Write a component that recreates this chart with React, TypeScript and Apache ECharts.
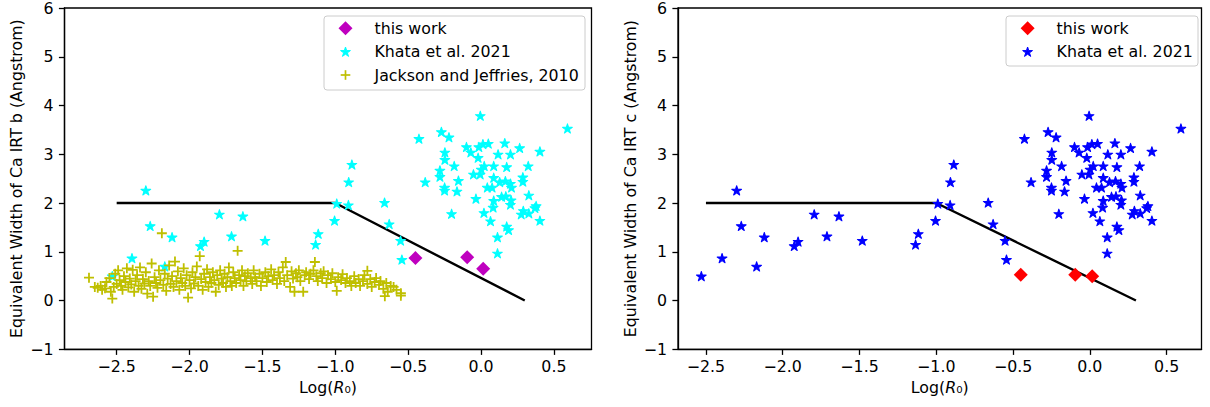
import React, { useEffect, useRef } from "react";
import * as echarts from "echarts";

const FONT = '"DejaVu Sans", sans-serif';
const FS = 15.8;

const xTicks = [-2.5, -2.0, -1.5, -1.0, -0.5, 0.0, 0.5];

const boundaryX = [-2.5, -1.0, 0.3];
const boundaryY = [2.0, 2.0, 0.0];

const thisWorkX = [-0.45, -0.095, 0.015];
const thisWorkB = [0.87, 0.89, 0.65];
const thisWorkC = [0.53, 0.53, 0.5];

const khataX = [
  -0.005, 0.593, -0.426, -0.272, -0.22, -0.248, -0.248, -0.1, -0.07, -0.015,
  0.013, 0.05, 0.163, 0.265, 0.404, 0.117, 0.202, -0.02, -0.184, 0.022,
  0.087, 0.176, 0.324, -0.282, -0.282, -0.052, -0.006, 0.002, -0.383, -0.155,
  0.087, 0.287, 0.287, 0.128, 0.167, 0.202, -0.25, -0.25, -0.165, 0.043,
  0.076, 0.209, -0.035, 0.141, 0.17, 0.206, 0.328, 0.087, 0.083, 0.202,
  0.378, 0.37, 0.02, -0.202, 0.276, 0.328, 0.29, 0.065, 0.404, 0.176,
  0.189, 0.113, 0.113, -0.63, -0.552, -0.543, -0.662,
  -2.3, -2.53, -2.395, -2.27, -2.17, -2.12, -1.925, -1.9, -1.795, -1.712,
  -1.634, -1.482, -1.135, -1.117, -1.005, -0.99, -0.91, -0.908, -0.886,
];
const khataY = [
  3.79, 3.53, 3.32, 3.46, 3.35, 3.04, 2.89, 3.15, 3.04, 3.15,
  3.21, 3.22, 3.23, 3.13, 3.06, 3.0, 3.0, 2.93, 2.76, 2.76,
  2.76, 2.74, 2.76, 2.67, 2.54, 2.59, 2.59, 2.69, 2.43, 2.46,
  2.52, 2.53, 2.44, 2.43, 2.45, 2.4, 2.32, 2.26, 2.24, 2.32,
  2.32, 2.32, 2.09, 2.13, 2.14, 2.06, 2.16, 2.05, 1.91, 1.97,
  1.94, 1.9, 1.8, 1.78, 1.77, 1.79, 1.84, 1.63, 1.64, 1.52,
  1.45, 1.3, 0.97, 1.57, 1.23, 0.84, 2.01,
  2.26, 0.5, 0.87, 1.53, 0.7, 1.3, 1.12, 1.21, 1.77, 1.32,
  1.73, 1.23, 1.15, 1.37, 1.64, 1.99, 1.96, 2.43, 2.79,
];

const jacksonPoints: [number, number][] = [
  [-2.69, 0.47], [-2.65, 0.28], [-2.63, 0.26], [-2.61, 0.3], [-2.6, 0.22], [-2.58, 0.25],
  [-2.57, 0.38], [-2.55, 0.46], [-2.54, 0.18], [-2.53, 0.04], [-2.52, 0.28], [-2.51, 0.55],
  [-2.5, 0.34], [-2.49, 0.62], [-2.48, 0.42], [-2.47, 0.3], [-2.46, 0.22], [-2.45, 0.5],
  [-2.44, 0.38], [-2.43, 0.66], [-2.42, 0.27], [-2.41, 0.45], [-2.4, 0.33], [-2.39, 0.63],
  [-2.38, 0.18], [-2.37, 0.4], [-2.36, 0.52], [-2.35, 0.3], [-2.34, 0.68], [-2.33, 0.24],
  [-2.32, 0.44], [-2.31, 0.35], [-2.3, 0.58], [-2.29, 0.14], [-2.28, 0.4], [-2.27, 0.3],
  [-2.26, 0.76], [-2.25, 0.08], [-2.24, 0.48], [-2.23, 0.36], [-2.22, 0.26], [-2.21, 0.62],
  [-2.2, 0.42], [-2.19, 1.38], [-2.18, 0.32], [-2.17, 0.55], [-2.16, 0.2], [-2.15, 0.45],
  [-2.14, 0.72], [-2.13, 0.34], [-2.12, 0.5], [-2.11, 0.28], [-2.1, 0.8], [-2.09, 0.4],
  [-2.08, 0.6], [-2.07, 0.22], [-2.06, 0.46], [-2.05, 0.36], [-2.04, 0.66], [-2.03, 0.3],
  [-2.02, 0.52], [-2.01, 0.06], [-2.0, 0.42], [-1.99, 0.25], [-1.98, 0.58], [-1.97, 0.35],
  [-1.96, 0.48], [-1.95, 0.7], [-1.94, 0.3], [-1.93, 0.91], [-1.92, 0.44], [-1.91, 0.22],
  [-1.9, 0.55], [-1.89, 0.38], [-1.88, 0.64], [-1.87, 0.28], [-1.86, 0.48], [-1.85, 0.36],
  [-1.84, 0.58], [-1.83, 0.42], [-1.82, 0.18], [-1.81, 0.52], [-1.8, 0.32], [-1.79, 0.62],
  [-1.78, 0.45], [-1.77, 0.36], [-1.76, 0.55], [-1.75, 0.28], [-1.74, 0.48], [-1.73, 0.68],
  [-1.72, 0.4], [-1.71, 0.3], [-1.7, 0.58], [-1.69, 0.46], [-1.68, 0.36], [-1.67, 1.02],
  [-1.66, 0.52], [-1.65, 0.42], [-1.64, 0.62], [-1.63, 0.3], [-1.62, 0.5], [-1.61, 0.4],
  [-1.6, 0.56], [-1.58, 0.46], [-1.57, 0.34], [-1.56, 0.62], [-1.55, 0.48], [-1.54, 0.4],
  [-1.52, 0.55], [-1.51, 0.3], [-1.5, 0.46], [-1.48, 0.58], [-1.47, 0.38], [-1.46, 0.5],
  [-1.44, 0.64], [-1.43, 0.42], [-1.42, 0.52], [-1.4, 0.34], [-1.39, 0.58], [-1.38, 0.46],
  [-1.36, 0.68], [-1.35, 0.4], [-1.34, 0.79], [-1.33, 0.52], [-1.31, 0.28], [-1.3, 0.6],
  [-1.29, 0.45], [-1.28, 0.18], [-1.27, 0.56], [-1.26, 0.48], [-1.25, 0.62], [-1.24, 0.4],
  [-1.22, 0.18], [-1.21, 0.52], [-1.2, 0.58], [-1.18, 0.44], [-1.17, 0.55], [-1.15, 0.62],
  [-1.14, 0.79], [-1.13, 0.5], [-1.12, 0.4], [-1.1, 0.56], [-1.09, 0.46], [-1.08, 0.6],
  [-1.06, 0.36], [-1.05, 0.52], [-1.03, 0.44], [-1.02, 0.56], [-1.0, 0.38], [-0.99, 0.2],
  [-0.98, 0.48], [-0.96, 0.42], [-0.95, 0.54], [-0.93, 0.36], [-0.92, 0.46], [-0.9, 0.4],
  [-0.89, 0.3], [-0.87, 0.5], [-0.86, 0.36], [-0.84, 0.44], [-0.83, 0.3], [-0.81, 0.4],
  [-0.8, 0.52], [-0.78, 0.61], [-0.78, 0.34], [-0.76, 0.44], [-0.75, 0.28], [-0.73, 0.38],
  [-0.72, 0.46], [-0.7, 0.32], [-0.69, 0.4], [-0.67, 0.24], [-0.66, 0.09], [-0.65, 0.36],
  [-0.64, 0.18], [-0.62, 0.3], [-0.6, 0.28], [-0.58, 0.22], [-0.55, 0.15], [-0.55, 0.1],
];

const STAR =
  "path://M100,0L122.45,69.1L195.11,69.1L136.33,111.8L158.78,180.9L100,138.2L41.22,180.9L63.67,111.8L4.89,69.1L77.55,69.1Z";
const PLUS =
  "path://M4.1,0L5.9,0L5.9,4.1L10,4.1L10,5.9L5.9,5.9L5.9,10L4.1,10L4.1,5.9L0,5.9L0,4.1L4.1,4.1Z";

const C_MAG = "#bf00bf";
const C_CYAN = "#00ffff";
const C_YEL = "#bfbf00";
const C_RED = "#ff0000";
const C_BLUE = "#0000ff";

const zip = (xs: number[], ys: number[]) => xs.map((x, i) => [x, ys[i]]);
const fmtX = (v: number) => v.toFixed(1).replace("-", "\u2212");
const fmtY = (v: number) => String(v).replace("-", "\u2212");

function starPts(cx: number, cy: number, r: number) {
  const pts: number[][] = [];
  for (let k = 0; k < 10; k++) {
    const rr = k % 2 === 0 ? r : r * 0.382;
    const a = (-90 + k * 36) * (Math.PI / 180);
    pts.push([cx + rr * Math.cos(a), cy + rr * Math.sin(a)]);
  }
  return pts;
}
function diamondPts(cx: number, cy: number, h: number) {
  return [[cx, cy - h], [cx + h, cy], [cx, cy + h], [cx - h, cy]];
}
function legendText(x: number, y: number, text: string) {
  return {
    type: "text",
    x,
    y,
    z: 100,
    style: { text, fill: "#000", fontSize: FS, fontFamily: FONT, align: "left", verticalAlign: "middle" },
  };
}
function plusMark(cx: number, cy: number, h: number, color: string) {
  return [
    { type: "line", z: 100, shape: { x1: cx - h, y1: cy, x2: cx + h, y2: cy }, style: { stroke: color, lineWidth: 1.7 } },
    { type: "line", z: 100, shape: { x1: cx, y1: cy - h, x2: cx, y2: cy + h }, style: { stroke: color, lineWidth: 1.7 } },
  ];
}

function makeX(gridIndex: number, min: number, max: number) {
  return {
    gridIndex,
    type: "value",
    min,
    max,
    name: "{n|Log(}{i|R}{n|\u2080)}",
    nameLocation: "middle",
    nameGap: 30,
    nameTextStyle: {
      rich: {
        n: { fontSize: FS, fontFamily: FONT, color: "#000" },
        i: { fontSize: FS, fontFamily: FONT, fontStyle: "italic", color: "#000" },
      },
    },
    axisLine: { show: true, onZero: false, lineStyle: { color: "#000", width: 1.3 } },
    axisTick: { show: true, length: 5.6, customValues: xTicks, lineStyle: { color: "#000", width: 1.3 } },
    axisLabel: { customValues: xTicks, formatter: fmtX, margin: 9, color: "#000", fontSize: FS, fontFamily: FONT },
    splitLine: { show: false },
  };
}
function makeY(gridIndex: number, name: string) {
  return {
    gridIndex,
    type: "value",
    min: -1,
    max: 6,
    interval: 1,
    name,
    nameLocation: "middle",
    nameGap: 40,
    nameTextStyle: { fontSize: FS, fontFamily: FONT, color: "#000" },
    axisLine: { show: true, onZero: false, lineStyle: { color: "#000", width: 1.3 } },
    axisTick: { show: true, length: 5.6, lineStyle: { color: "#000", width: 1.3 } },
    axisLabel: { formatter: fmtY, margin: 11, color: "#000", fontSize: FS, fontFamily: FONT },
    splitLine: { show: false },
  };
}

export default function App() {
  const ref = useRef<HTMLDivElement>(null);
  useEffect(() => {
    if (!ref.current) return;
    const chart = echarts.init(ref.current, undefined, { renderer: "svg" });
    const grid = [
      { left: 64.5, top: 7.5, width: 527, height: 341.8, show: true, borderColor: "#000", borderWidth: 1.3, backgroundColor: "#fff" },
      { left: 678, top: 7.5, width: 523.5, height: 341.8, show: true, borderColor: "#000", borderWidth: 1.3, backgroundColor: "#fff" },
    ];
    const lx = 345.5, ltx = 374.5;
    const rx = 1027.6, rtx = 1056.6;
    const graphic: any[] = [
      { type: "rect", z: 99, shape: { x: 324, y: 16, width: 261, height: 74, r: 3 }, style: { fill: "rgba(255,255,255,0.8)", stroke: "#cccccc", lineWidth: 1 } },
      { type: "polygon", z: 100, shape: { points: diamondPts(lx, 28.3, 7) }, style: { fill: C_MAG } },
      legendText(ltx, 28.3, "this work"),
      { type: "polygon", z: 100, shape: { points: starPts(lx, 52.2, 5.2) }, style: { fill: C_CYAN, stroke: C_CYAN, lineWidth: 1, lineJoin: "round" } },
      legendText(ltx, 51.7, "Khata et al. 2021"),
      ...plusMark(lx, 75, 4.8, C_YEL),
      legendText(ltx, 75, "Jackson and Jeffries, 2010"),
      { type: "rect", z: 99, shape: { x: 1006, y: 16, width: 192, height: 50, r: 3 }, style: { fill: "rgba(255,255,255,0.8)", stroke: "#cccccc", lineWidth: 1 } },
      { type: "polygon", z: 100, shape: { points: diamondPts(rx, 28.3, 7) }, style: { fill: C_RED } },
      legendText(rtx, 28.3, "this work"),
      { type: "polygon", z: 100, shape: { points: starPts(rx, 52.2, 5.2) }, style: { fill: C_BLUE, stroke: C_BLUE, lineWidth: 1, lineJoin: "round" } },
      legendText(rtx, 51.7, "Khata et al. 2021"),
    ];
    const starStyle = (c: string) => ({ color: c, opacity: 1, borderColor: c, borderWidth: 1, borderJoin: "round" });
    const option: any = {
      animation: false,
      backgroundColor: "#fff",
      grid,
      xAxis: [makeX(0, -2.858, 0.758), makeX(1, -2.682, 0.727)],
      yAxis: [
        makeY(0, "Equivalent Width of Ca IRT b (Angstrom)"),
        makeY(1, "Equivalent Width of Ca IRT c (Angstrom)"),
      ],
      series: [
        { type: "line", xAxisIndex: 0, yAxisIndex: 0, data: zip(boundaryX, boundaryY), symbol: "none", silent: true, lineStyle: { color: "#000", width: 2.4 }, z: 1 },
        { type: "scatter", name: "this work", xAxisIndex: 0, yAxisIndex: 0, data: zip(thisWorkX, thisWorkB), symbol: "diamond", symbolSize: 14, itemStyle: { color: C_MAG, opacity: 1 }, silent: true, z: 2 },
        { type: "scatter", name: "Khata et al. 2021", xAxisIndex: 0, yAxisIndex: 0, data: zip(khataX, khataY), symbol: STAR, symbolSize: [9.8, 9.3], itemStyle: starStyle(C_CYAN), silent: true, z: 3 },
        { type: "scatter", name: "Jackson and Jeffries, 2010", xAxisIndex: 0, yAxisIndex: 0, data: jacksonPoints, symbol: PLUS, symbolSize: 10, itemStyle: { color: C_YEL, opacity: 1 }, silent: true, z: 4 },
        { type: "line", xAxisIndex: 1, yAxisIndex: 1, data: zip(boundaryX, boundaryY), symbol: "none", silent: true, lineStyle: { color: "#000", width: 2.4 }, z: 1 },
        { type: "scatter", name: "this work ", xAxisIndex: 1, yAxisIndex: 1, data: zip(thisWorkX, thisWorkC), symbol: "diamond", symbolSize: 14, itemStyle: { color: C_RED, opacity: 1 }, silent: true, z: 2 },
        { type: "scatter", name: "Khata et al. 2021 ", xAxisIndex: 1, yAxisIndex: 1, data: zip(khataX, khataY), symbol: STAR, symbolSize: [9.8, 9.3], itemStyle: starStyle(C_BLUE), silent: true, z: 3 },
      ],
      graphic,
    };
    chart.setOption(option);
    return () => chart.dispose();
  }, []);
  return (
    <div
      ref={ref}
      style={{ position: "absolute", left: 0, top: 0, width: 1210, height: 407, background: "#fff" }}
    />
  );
}
